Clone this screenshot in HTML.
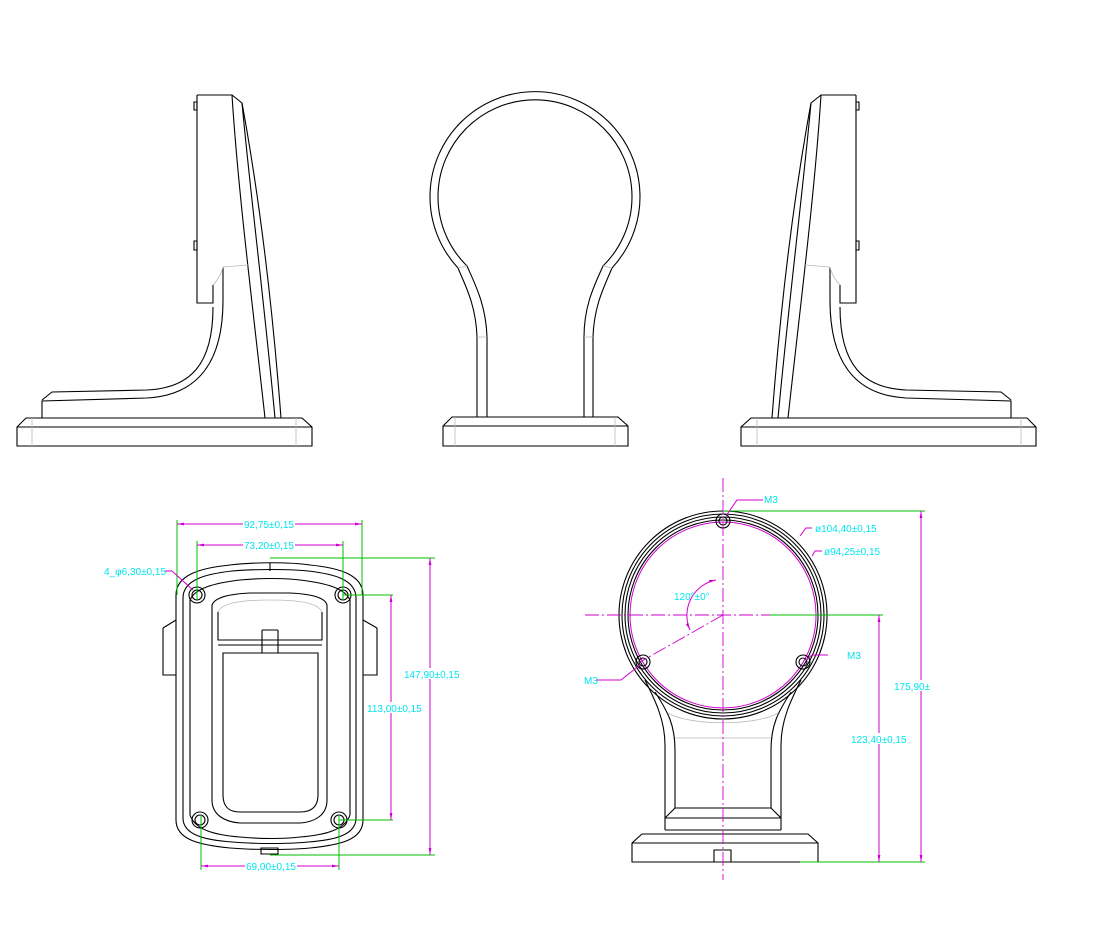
<!DOCTYPE html>
<html><head><meta charset="utf-8"><style>
html,body{margin:0;padding:0;background:#fff}
svg{display:block}
text{font-family:"Liberation Sans",sans-serif;font-size:10px;fill:#00e5ee}
.k{fill:none;stroke:#000;stroke-width:1.1}
.g{fill:none;stroke:#bbb;stroke-width:0.8}
.m{fill:none;stroke:#d000d0;stroke-width:1}
.gr{fill:none;stroke:#00c000;stroke-width:1}
.cl{fill:none;stroke:#d000d0;stroke-width:0.9;stroke-dasharray:14 3 2 3}
</style></head><body>
<svg width="1096" height="927" viewBox="0 0 1096 927" xmlns="http://www.w3.org/2000/svg">
<defs>
<marker id="a" viewBox="0 0 10 10" refX="10" refY="5" markerWidth="7" markerHeight="7" orient="auto-start-reverse"><path d="M0,3 L10,5 L0,7z" fill="#d000d0"/></marker>
<g id="side">
 <path class="k" d="M197,95 L232,95 L242,103 C258,190 272,300 281,418"/>
 <path class="k" d="M232,95 C238,190 252,300 265,418"/>
 <path class="k" d="M242,103 C250,190 264,300 275,418"/>
 <path class="k" d="M197,95 L197,303 L213,303 L213,285"/>
 <path class="k" d="M194,102 h3 v8 h-3z M194,241 h3 v9 h-3z"/>
 <path class="k" d="M223,267 L223,300 C223,360 200,395 147,398 L42,401 L42,418"/>
 <path class="k" d="M213,307 C213,365 190,388 147,390 L52,392 L42,400"/>
 <path class="g" d="M223,267 L248,265 M213,285 C218,280 222,272 223,267"/>
 <path class="k" d="M17,427 L26,418 L302,418 L312,427 L312,446 L17,446 Z M17,427 L312,427"/>
 <path class="g" d="M32,418 L32,446 M296,418 L296,446"/>
</g>
</defs>
<use href="#side"/>
<g transform="translate(1053,0) scale(-1,1)"><use href="#side"/></g>
<g>
 <path class="k" d="M477,417 L477,337 C476,305 465,285 458,268 A105,105 0 1 1 612,268 C605,285 594,305 593,337 L593,417"/>
 <path class="k" d="M487,417 L487,337 C486,305 475,284 467,266 A97,97 0 1 1 603,266 C595,284 584,305 584,337 L584,417"/>
 <path class="g" d="M458,268 L467,266 M612,268 L603,266 M477,337 L487,337 M584,337 L593,337"/>
 <path class="k" d="M443,426 L452,417 L618,417 L628,426 L628,446 L443,446 Z M443,426 L628,426"/>
 <path class="g" d="M455,417 L455,446 M615,417 L615,446"/>
</g>
<g>
 <path class="k" d="M176,595 C176,575 200,568 230,565 C255,562 290,562 310,565 C340,568 363,575 363,595 L363,820 C363,840 340,845 310,848 C290,850 255,850 230,848 C200,845 176,840 176,820 Z"/>
 <path class="k" d="M183,598 C183,580 205,574 232,571 C255,569 290,569 308,571 C335,574 356,580 356,598 L356,818 C356,835 335,840 308,842 C290,844 255,844 232,842 C205,840 183,835 183,818 Z"/>
 <path class="k" d="M190,600 C195,588 215,583 240,580 C260,578 285,578 300,580 C325,583 345,588 350,600"/>
 <path class="k" d="M190,600 L190,815 M350,600 L350,815 M190,815 C195,830 215,835 240,837 C260,839 285,839 300,837 C325,835 345,830 350,815"/>
 <line class="k" x1="270" y1="563" x2="270" y2="571"/>
 <path class="k" d="M163,628 L176,620 M163,628 L163,675 L176,675 M377,628 L363,620 M377,628 L377,675 L363,675"/>
 <path class="k" d="M212,605 C215,597 230,594 250,593 L290,593 C310,594 325,597 327,605 L327,800 C327,815 315,822 300,823 L240,823 C225,822 212,815 212,800 Z"/>
 <path class="g" d="M218,612 C222,603 240,600 270,600 C300,600 318,603 322,612"/>
 <path class="k" d="M218,612 L218,640 L322,640 L322,612 M218,645 L322,645 M262,630 L262,653 M278,630 L278,653 M262,630 L278,630"/>
 <path class="k" d="M223,653 L318,653 L318,795 C318,808 310,812 300,812 L240,812 C230,812 223,808 223,795 Z"/>
 <path class="k" d="M261,848 h17 v6 h-17z"/>
 <circle class="k" cx="197" cy="595" r="8"/><circle class="k" cx="197" cy="595" r="5"/>
 <circle class="k" cx="343" cy="595" r="8"/><circle class="k" cx="343" cy="595" r="5"/>
 <circle class="k" cx="200" cy="820" r="8"/><circle class="k" cx="200" cy="820" r="5"/>
 <circle class="k" cx="339" cy="820" r="8"/><circle class="k" cx="339" cy="820" r="5"/>
 <path class="gr" d="M177,520 L177,595 M362,520 L362,595 M197,541 L197,600 M343,541 L343,600 M201,815 L201,870 M339,815 L339,870 M270,558 L435,558 M343,595 L393,595 M339,820 L393,820 M270,855 L435,855"/>
 <line class="m" x1="177" y1="524" x2="362" y2="524" marker-start="url(#a)" marker-end="url(#a)"/>
 <line class="m" x1="197" y1="545" x2="343" y2="545" marker-start="url(#a)" marker-end="url(#a)"/>
 <line class="m" x1="201" y1="866" x2="339" y2="866" marker-start="url(#a)" marker-end="url(#a)"/>
 <line class="m" x1="430" y1="558" x2="430" y2="855" marker-start="url(#a)" marker-end="url(#a)"/>
 <line class="m" x1="391" y1="595" x2="391" y2="820" marker-start="url(#a)" marker-end="url(#a)"/>
 <path class="m" d="M165,571 L172,571 L193,590"/>
 <rect x="243" y="518" width="52" height="11" fill="#fff"/><text x="244" y="528">92,75±0,15</text>
 <rect x="243" y="539" width="52" height="11" fill="#fff"/><text x="244" y="549">73,20±0,15</text>
 <rect x="245" y="860" width="52" height="11" fill="#fff"/><text x="246" y="870">69,00±0,15</text>
 <text x="104" y="575">4_φ6,30±0,15</text>
 <rect x="404" y="668" width="54" height="11" fill="#fff"/><text x="404" y="678">147,90±0,15</text>
 <rect x="367" y="702" width="52" height="11" fill="#fff"/><text x="367" y="712">113,00±0,15</text>
</g>
<g>
 <circle class="k" cx="723" cy="615" r="104"/>
 <circle class="k" cx="723" cy="615" r="101"/>
 <circle class="k" cx="723" cy="615" r="98"/>
 <circle class="k" cx="723" cy="615" r="95"/>
 <circle class="m" cx="723" cy="615" r="93" stroke-width="0.8"/>
 <path class="k" d="M645,680 C655,700 665,720 665,745 L665,830 M801,680 C791,700 781,720 781,745 L781,830"/>
 <path class="k" d="M655,692 C668,712 675,725 675,750 L675,808 L771,808 L771,750 C771,725 778,712 791,692"/>
 <path class="g" d="M675,738 L771,738 M668,713 C690,726 756,726 778,713"/>
 <path class="k" d="M665,830 L781,830 M675,808 L665,818 M771,808 L781,818 M665,818 L781,818"/>
 <path class="k" d="M632,843 L642,834 L808,834 L818,843 L818,862 L632,862 Z M632,843 L818,843"/>
 <path class="k" d="M714,850 h17 v12 h-17z"/>
 <circle class="k" cx="723" cy="521" r="7"/><circle class="k" cx="723" cy="521" r="4"/>
 <circle class="k" cx="643" cy="662" r="7"/><circle class="k" cx="643" cy="662" r="4"/>
 <circle class="k" cx="803" cy="662" r="7"/><circle class="k" cx="803" cy="662" r="4"/>
 <line class="cl" x1="723" y1="478" x2="723" y2="880"/>
 <line class="cl" x1="585" y1="615" x2="770" y2="615"/>
 <line class="cl" x1="723" y1="615" x2="640" y2="662"/>
 <path class="gr" d="M770,615 L883,615 M723,511 L925,511 M800,862 L925,862"/>
 <line class="m" x1="879" y1="615" x2="879" y2="862" marker-start="url(#a)" marker-end="url(#a)"/>
 <line class="m" x1="921" y1="511" x2="921" y2="862" marker-start="url(#a)" marker-end="url(#a)"/>
 <path class="m" d="M716,580 A36,36 0 0 0 690,630" marker-start="url(#a)" marker-end="url(#a)"/>
 <path class="m" d="M763,500 L737,500 L726,516 M828,655 L812,655 L806,660 M596,680 L621,680 L640,665 M812,528 L806,528 L800,536 M822,551 L815,551 L812,556"/>
 <text x="764" y="503">M3</text>
 <text x="847" y="659">M3</text>
 <text x="584" y="684">M3</text>
 <text x="815" y="532">ø104,40±0,15</text>
 <text x="824" y="555">ø94,25±0,15</text>
 <text x="674" y="600">120°±0°</text>
 <rect x="851" y="733" width="54" height="11" fill="#fff"/><text x="851" y="743">123,40±0,15</text>
 <rect x="893" y="680" width="36" height="11" fill="#fff"/><text x="894" y="690">175,90±</text>
</g>
</svg>
</body></html>
